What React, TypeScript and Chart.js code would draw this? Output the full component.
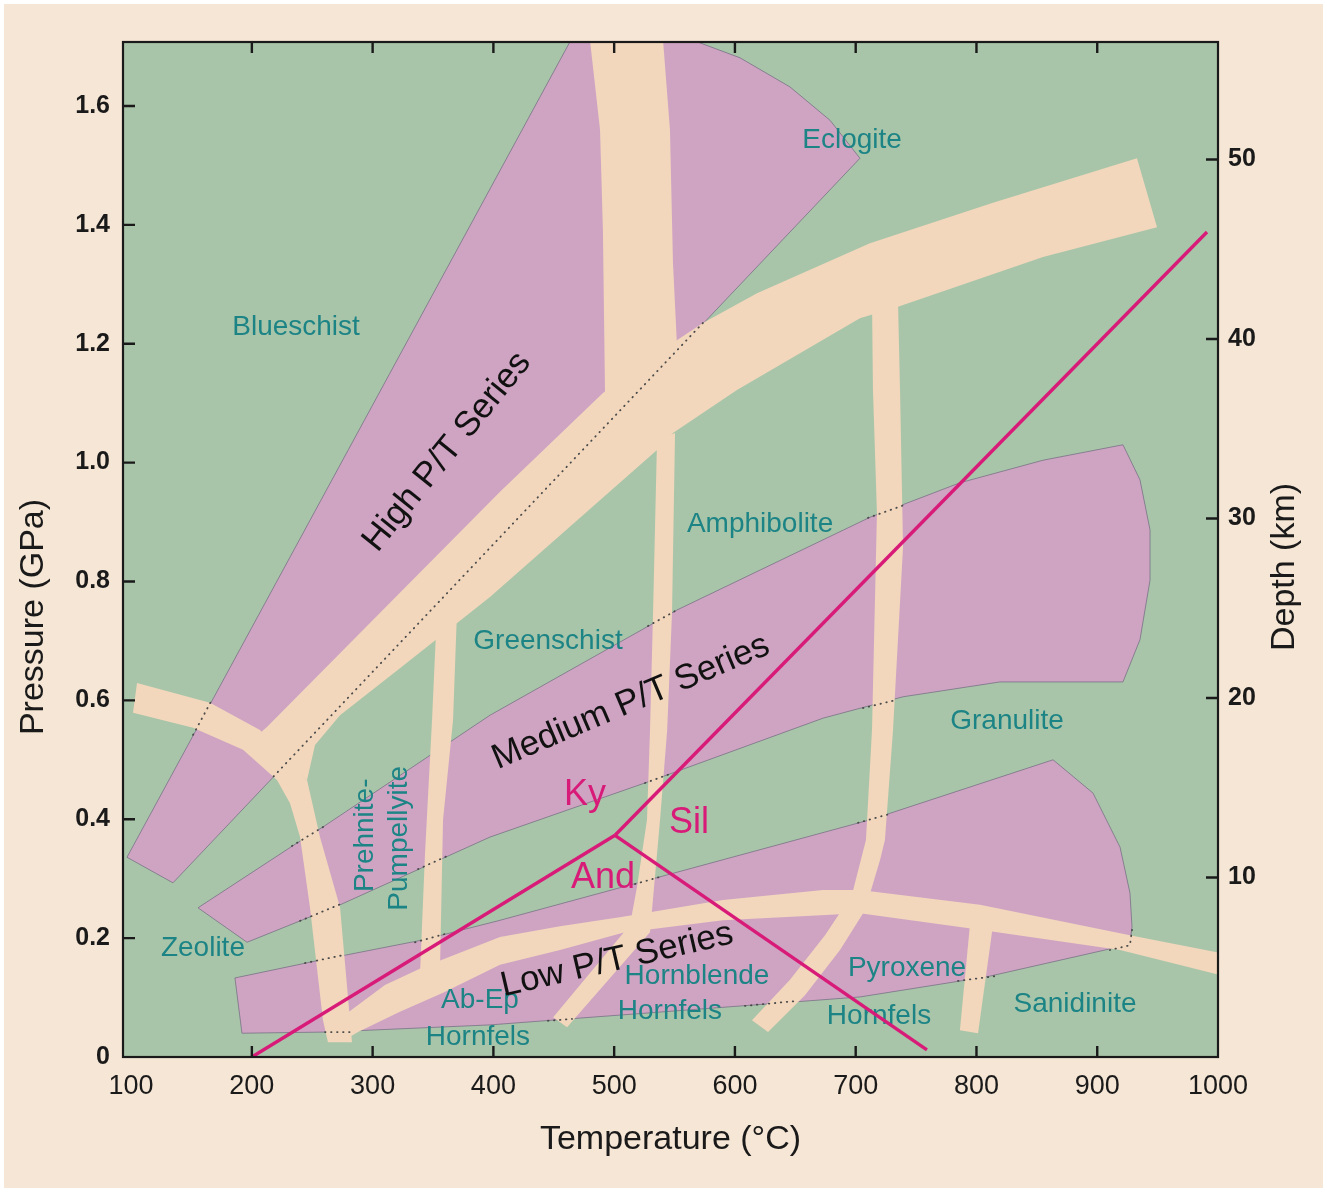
import React, { useEffect, useRef } from 'react';
import { Chart, registerables } from 'chart.js';

Chart.register(...registerables);

type Pt = [number, number];

// ---------- axes (T in °C, P in GPa, depth in km) ----------
const temperatureTicks = [100, 200, 300, 400, 500, 600, 700, 800, 900, 1000];
const temperatureTickMarks = [200, 300, 400, 500, 600, 700, 800, 900];
const pressureTicks = [0, 0.2, 0.4, 0.6, 0.8, 1.0, 1.2, 1.4, 1.6];
const depthTicks = [10, 20, 30, 40, 50];
const T_MIN = 93.3;
const T_MAX = 1000;
const P_MIN = 0;
const P_MAX = 1.7076;
const DEPTH_MAX = 56.55;

// ---------- facies fields (purple) ----------
const highPTField: Pt[] = [
  [96.6, 0.336], [463.4, 1.708], [568.6, 1.708], [604.2, 1.681], [645.6, 1.632],
  [678.7, 1.576], [703.5, 1.512], [134.7, 0.293],
];
const mediumPTField: Pt[] = [
  [155.4, 0.251], [237.4, 0.360], [258.9, 0.387], [397.2, 0.575], [552.0, 0.752],
  [711.8, 0.908], [786.3, 0.966], [855.1, 1.004], [921.3, 1.030], [935.4, 0.971],
  [943.7, 0.887], [943.7, 0.802], [935.4, 0.702], [921.3, 0.631], [819.5, 0.631],
  [739.2, 0.606], [672.9, 0.570], [529.7, 0.464], [397.2, 0.370], [273.0, 0.256],
  [196.0, 0.193],
];
const lowPTField: Pt[] = [
  [186.0, 0.133], [256.4, 0.163], [341.7, 0.197], [405.5, 0.230], [711.8, 0.399],
  [863.4, 0.500], [896.5, 0.444], [918.9, 0.353], [927.1, 0.276], [928.8, 0.219],
  [927.1, 0.192], [913.0, 0.183], [808.7, 0.135], [703.5, 0.101], [397.2, 0.054],
  [262.2, 0.042], [191.8, 0.040],
];

// ---------- facies boundary bands (peach) ----------
const bandHighPT: Pt[] = [
  [205.1, 0.542], [212.5, 0.555], [322.6, 0.781], [405.5, 0.951], [490.7, 1.117],
  [529.7, 1.176], [573.5, 1.235], [618.3, 1.285], [711.8, 1.369], [813.7, 1.437],
  [932.9, 1.512], [949.5, 1.396], [855.1, 1.346], [735.0, 1.262], [703.5, 1.243],
  [601.7, 1.122], [548.7, 1.050], [535.5, 1.021], [397.2, 0.774], [322.6, 0.654],
  [273.0, 0.575], [252.3, 0.525], [245.7, 0.466],
];
const bandEclogite: Pt[] = [
  [480.0, 1.71], [540.5, 1.71], [546.2, 1.560], [548.7, 1.336], [552.0, 1.198],
  [552.0, 1.072], [490.7, 1.021], [492.4, 1.122], [490.7, 1.391], [488.3, 1.560],
];
const bandAmphibolite: Pt[] = [
  [535.5, 1.038], [532.2, 0.747], [529.7, 0.550], [527.2, 0.399], [518.9, 0.286],
  [513.1, 0.222], [449.5, 0.067], [461.0, 0.050], [529.7, 0.210], [538.0, 0.399],
  [543.9, 0.550], [547.9, 0.747], [550.4, 1.050],
];
const bandGranulite: Pt[] = [
  [713.5, 1.274], [714.3, 1.122], [717.6, 0.915], [713.5, 0.550], [708.5, 0.365],
  [696.9, 0.273], [674.6, 0.205], [645.6, 0.130], [614.1, 0.062], [627.4, 0.042],
  [658.0, 0.104], [687.0, 0.180], [707.7, 0.247], [720.1, 0.331], [724.2, 0.365],
  [730.9, 0.550], [739.2, 0.858], [736.7, 1.122], [735.0, 1.274],
];
const bandPrehnite: Pt[] = [
  [353.3, 0.752], [349.2, 0.567], [343.4, 0.343], [339.2, 0.138], [355.8, 0.150],
  [358.3, 0.399], [366.6, 0.567], [369.9, 0.752],
];
const bandZeolite: Pt[] = [
  [104.9, 0.629], [165.3, 0.596], [206.7, 0.550], [245.7, 0.466], [256.4, 0.370],
  [273.0, 0.252], [281.3, 0.062], [282.9, 0.025], [263.0, 0.025], [258.9, 0.062],
  [248.1, 0.252], [239.9, 0.370], [231.6, 0.427], [220.8, 0.466], [192.7, 0.517],
  [151.3, 0.554], [101.6, 0.579],
];
const bandLowPT: Pt[] = [
  [277.1, 0.071], [310.2, 0.121], [341.7, 0.151], [405.5, 0.202], [455.2, 0.220],
  [507.3, 0.236], [590.1, 0.264], [672.9, 0.281], [703.5, 0.281], [802.9, 0.256],
  [927.1, 0.205], [1001.6, 0.175], [1001.6, 0.138], [918.9, 0.180], [802.9, 0.214],
  [703.5, 0.242], [590.1, 0.230], [507.3, 0.209], [455.2, 0.180], [405.5, 0.155],
  [358.3, 0.108], [322.6, 0.076], [287.9, 0.042], [277.1, 0.029],
];
const bandSanidinite: Pt[] = [
  [794.6, 0.222], [813.7, 0.222], [801.3, 0.040], [786.3, 0.045],
];

// ---------- hidden field edges under the bands (dotted) ----------
const dottedEdges: Pt[][] = [
  [[573.5, 1.235], [217.5, 0.471]],
  [[151.3, 0.542], [167.0, 0.601]],
  [[233.2, 0.355], [260.6, 0.389]],
  [[239.9, 0.229], [275.5, 0.259]],
  [[244.0, 0.158], [277.1, 0.172]],
  [[260.6, 0.042], [285.4, 0.042]],
  [[337.6, 0.316], [361.6, 0.338]],
  [[335.1, 0.193], [359.9, 0.207]],
  [[528.0, 0.725], [552.0, 0.752]],
  [[525.5, 0.461], [546.2, 0.476]],
  [[517.2, 0.291], [538.0, 0.303]],
  [[445.2, 0.061], [465.1, 0.064]],
  [[710.2, 0.907], [740.8, 0.929]],
  [[706.0, 0.587], [734.2, 0.601]],
  [[701.9, 0.394], [728.4, 0.409]],
  [[608.3, 0.086], [649.7, 0.094]],
  [[784.7, 0.128], [815.3, 0.136]],
  [[928.8, 0.214], [927.1, 0.188], [910.5, 0.180]],
];

// ---------- Al2SiO5 triple point ----------
const kyaniteAndalusite: Pt[] = [[200, 0], [500.7, 0.373]];
const kyaniteSillimanite: Pt[] = [[500.7, 0.373], [990.9, 1.388]];
const andalusiteSillimanite: Pt[] = [[500.7, 0.373], [759.0, 0.012]];

// ---------- labels (anchored at T, P) ----------
const faciesLabels = [
  { text: 'Blueschist', t: 236.6, p: 1.228 },
  { text: 'Eclogite', t: 697.0, p: 1.543 },
  { text: 'Amphibolite', t: 620.8, p: 0.897 },
  { text: 'Greenschist', t: 445.2, p: 0.700 },
  { text: 'Granulite', t: 825.3, p: 0.564 },
  { text: 'Zeolite', t: 159.5, p: 0.183 },
  { text: 'Ab-Ep', t: 388.9, p: 0.096 },
  { text: 'Hornfels', t: 387.2, p: 0.034 },
  { text: 'Hornblende', t: 568.6, p: 0.135 },
  { text: 'Hornfels', t: 546.2, p: 0.077 },
  { text: 'Pyroxene', t: 742.5, p: 0.150 },
  { text: 'Hornfels', t: 719.3, p: 0.069 },
  { text: 'Sanidinite', t: 881.6, p: 0.089 },
];
const verticalLabels = [
  { text: 'Prehnite-', t: 293.7, p: 0.373 },
  { text: 'Pumpellyite', t: 321.8, p: 0.368 },
];
const seriesLabels = [
  { text: 'High P/T Series', t: 361.6, p: 1.018, angle: -51 },
  { text: 'Medium P/T Series', t: 513.9, p: 0.597, angle: -23 },
  { text: 'Low P/T Series', t: 502.3, p: 0.163, angle: -13 },
];
const mineralLabels = [
  { text: 'Ky', t: 475.8, p: 0.441 },
  { text: 'Sil', t: 562.0, p: 0.394 },
  { text: 'And', t: 490.7, p: 0.301 },
];

// ---------- styles ----------
const PANEL = '#f6e6d5';
const GREEN = '#a9c5a9';
const PURPLE = '#cfa4c3';
const BAND = '#f2d7bc';
const TEAL = '#1d8486';
const MAGENTA = '#d81b78';
const INK = '#1a1a1a';
const SANS = '"Liberation Sans", Arial, Helvetica, sans-serif';

const toXY = (pts: Pt[]) => pts.map(([x, y]) => ({ x, y }));

const polygon = (label: string, pts: Pt[], fill: string, stroke?: string) => ({
  label,
  data: toXY(pts),
  showLine: false,
  pointRadius: 0,
  pointHoverRadius: 0,
  polygonFill: fill,
  polygonStroke: stroke,
  order: 2,
});

const line = (label: string, pts: Pt[], color: string, width: number, dash: number[], order: number) => ({
  label,
  data: toXY(pts),
  showLine: true,
  pointRadius: 0,
  pointHoverRadius: 0,
  borderColor: color,
  borderWidth: width,
  borderDash: dash,
  borderCapStyle: dash.length ? 'round' : 'butt',
  fill: false,
  tension: 0,
  order,
});

function drawLabel(ctx: CanvasRenderingContext2D, text: string, x: number, y: number, font: string, color: string, angle = 0) {
  ctx.save();
  ctx.translate(x, y);
  ctx.rotate((angle * Math.PI) / 180);
  ctx.font = font;
  ctx.fillStyle = color;
  ctx.textAlign = 'center';
  ctx.textBaseline = 'middle';
  ctx.fillText(text, 0, 0);
  ctx.restore();
}

const faciesPlugin = {
  id: 'faciesDiagram',
  beforeDraw(chart: any) {
    const { ctx, width, height, chartArea: a } = chart;
    ctx.save();
    ctx.fillStyle = '#ffffff';
    ctx.fillRect(0, 0, width, height);
    ctx.fillStyle = PANEL;
    ctx.fillRect(4, 4, width - 8, height - 8);
    ctx.fillStyle = GREEN;
    ctx.fillRect(a.left, a.top, a.right - a.left, a.bottom - a.top);
    ctx.restore();
  },
  beforeDatasetsDraw(chart: any) {
    const { ctx, chartArea: a, scales } = chart;
    ctx.save();
    ctx.beginPath();
    ctx.rect(a.left, a.top, a.right - a.left, a.bottom - a.top);
    ctx.clip();
    chart.data.datasets.forEach((ds: any, i: number) => {
      if (!ds.polygonFill) return;
      const pts = chart.getDatasetMeta(i).data;
      ctx.beginPath();
      pts.forEach((p: any, j: number) => (j ? ctx.lineTo(p.x, p.y) : ctx.moveTo(p.x, p.y)));
      ctx.closePath();
      ctx.fillStyle = ds.polygonFill;
      ctx.fill();
      if (ds.polygonStroke) {
        ctx.strokeStyle = ds.polygonStroke;
        ctx.lineWidth = 1;
        ctx.stroke();
      }
    });
    const X = (t: number) => scales.x.getPixelForValue(t);
    const Y = (p: number) => scales.y.getPixelForValue(p);
    faciesLabels.forEach((l) => drawLabel(ctx, l.text, X(l.t), Y(l.p), `28px ${SANS}`, TEAL));
    verticalLabels.forEach((l) => drawLabel(ctx, l.text, X(l.t), Y(l.p), `28px ${SANS}`, TEAL, -90));
    seriesLabels.forEach((l) => drawLabel(ctx, l.text, X(l.t), Y(l.p), `35px ${SANS}`, '#111111', l.angle));
    mineralLabels.forEach((l) => drawLabel(ctx, l.text, X(l.t), Y(l.p), `36px ${SANS}`, MAGENTA));
    ctx.restore();
  },
  afterDraw(chart: any) {
    const { ctx, chartArea: a, scales } = chart;
    ctx.save();
    ctx.strokeStyle = INK;
    ctx.lineWidth = 2.2;
    ctx.strokeRect(a.left, a.top, a.right - a.left, a.bottom - a.top);
    ctx.beginPath();
    temperatureTickMarks.forEach((t) => {
      const x = scales.x.getPixelForValue(t);
      ctx.moveTo(x, a.top);
      ctx.lineTo(x, a.top + 11);
      ctx.moveTo(x, a.bottom);
      ctx.lineTo(x, a.bottom - 11);
    });
    pressureTicks.filter((p) => p > 0).forEach((p) => {
      const y = scales.y.getPixelForValue(p);
      ctx.moveTo(a.left, y);
      ctx.lineTo(a.left + 12, y);
    });
    depthTicks.forEach((d) => {
      const y = scales.y2.getPixelForValue(d);
      ctx.moveTo(a.right, y);
      ctx.lineTo(a.right - 12, y);
    });
    ctx.lineWidth = 2.4;
    ctx.stroke();
    drawLabel(ctx, 'Pressure (GPa)', 34, 617, `34px ${SANS}`, INK, -90);
    drawLabel(ctx, 'Depth (km)', 1285, 567, `34px ${SANS}`, INK, -90);
    ctx.restore();
  },
};

export default function App() {
  const canvasRef = useRef<HTMLCanvasElement | null>(null);

  useEffect(() => {
    const canvas = canvasRef.current;
    if (!canvas) return;
    const datasets: any[] = [
      line('Ky = And', kyaniteAndalusite, MAGENTA, 3.4, [], 0),
      line('Ky = Sil', kyaniteSillimanite, MAGENTA, 3.4, [], 0),
      line('And = Sil', andalusiteSillimanite, MAGENTA, 3.4, [], 0),
      ...dottedEdges.map((seg, i) => line(`hidden edge ${i + 1}`, seg, '#4a4a4a', 1.8, [0.5, 5.5], 1)),
      polygon('High P/T facies', highPTField, PURPLE, 'rgba(115,110,130,0.75)'),
      polygon('Medium P/T facies', mediumPTField, PURPLE, 'rgba(115,110,130,0.75)'),
      polygon('Low P/T facies', lowPTField, PURPLE, 'rgba(115,110,130,0.75)'),
      polygon('Zeolite boundary', bandZeolite, BAND),
      polygon('High P/T boundary', bandHighPT, BAND),
      polygon('Eclogite boundary', bandEclogite, BAND),
      polygon('Amphibolite boundary', bandAmphibolite, BAND),
      polygon('Granulite boundary', bandGranulite, BAND),
      polygon('Prehnite boundary', bandPrehnite, BAND),
      polygon('Low P/T boundary', bandLowPT, BAND),
      polygon('Sanidinite boundary', bandSanidinite, BAND),
    ];

    const chart = new Chart(canvas, {
      type: 'scatter',
      data: { datasets },
      plugins: [faciesPlugin],
      options: {
        responsive: false,
        devicePixelRatio: 1,
        animation: false,
        events: [],
        layout: { padding: { top: 42, left: 0, right: 0, bottom: 0 } },
        plugins: { legend: { display: false }, tooltip: { enabled: false } },
        scales: {
          x: {
            type: 'linear',
            position: 'bottom',
            min: T_MIN,
            max: T_MAX,
            afterBuildTicks: (s: any) => {
              s.ticks = temperatureTicks.map((v) => ({ value: v }));
            },
            afterFit: (s: any) => {
              s.height = 135;
            },
            grid: { display: false, drawTicks: false },
            border: { display: false },
            ticks: {
              autoSkip: false,
              maxRotation: 0,
              padding: 13,
              color: INK,
              font: { family: SANS, size: 27 },
              callback: (v: any) => String(v),
            },
            title: {
              display: true,
              text: 'Temperature (°C)',
              color: INK,
              font: { family: SANS, size: 34 },
              padding: { top: 0, bottom: 32 },
            },
          },
          y: {
            type: 'linear',
            position: 'left',
            min: P_MIN,
            max: P_MAX,
            afterBuildTicks: (s: any) => {
              s.ticks = pressureTicks.map((v) => ({ value: v }));
            },
            afterFit: (s: any) => {
              s.width = 123;
            },
            grid: { display: false, drawTicks: false },
            border: { display: false },
            ticks: {
              padding: 13,
              color: INK,
              font: { family: SANS, size: 25, weight: 'bold' },
              callback: (v: any) => (Number(v) === 0 ? '0' : Number(v).toFixed(1)),
            },
          },
          y2: {
            type: 'linear',
            position: 'right',
            min: 0,
            max: DEPTH_MAX,
            afterBuildTicks: (s: any) => {
              s.ticks = depthTicks.map((v) => ({ value: v }));
            },
            afterFit: (s: any) => {
              s.width = 109;
            },
            grid: { display: false, drawTicks: false },
            border: { display: false },
            ticks: {
              padding: 10,
              color: INK,
              font: { family: SANS, size: 25, weight: 'bold' },
              callback: (v: any) => String(v),
            },
          },
        },
      } as any,
    });

    return () => chart.destroy();
  }, []);

  return (
    <div style={{ position: 'absolute', left: 0, top: 0, width: 1327, height: 1192 }}>
      <canvas ref={canvasRef} width={1327} height={1192} style={{ display: 'block', width: 1327, height: 1192 }} />
    </div>
  );
}
